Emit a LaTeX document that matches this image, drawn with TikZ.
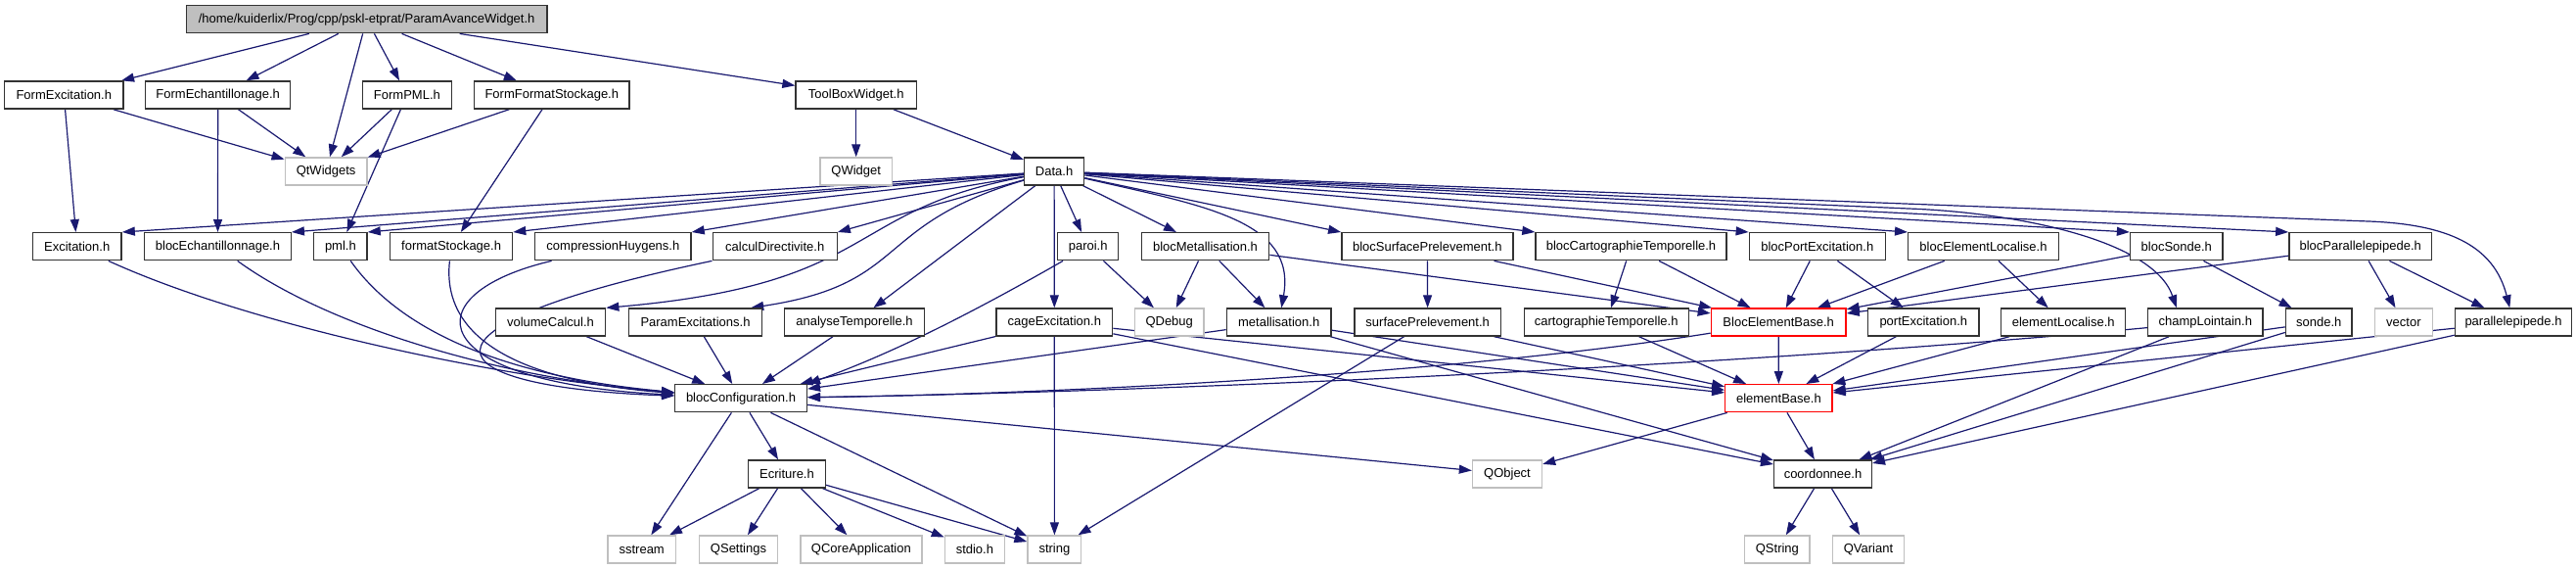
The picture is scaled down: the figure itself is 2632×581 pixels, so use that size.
\documentclass[tikz,border=0pt]{standalone}
\usepackage{fontspec}
\setmainfont{Liberation Sans}
\usetikzlibrary{arrows.meta,calc}
\definecolor{edgec}{HTML}{191970}
\definecolor{extc}{HTML}{BFBFBF}
\definecolor{rootfill}{HTML}{BFBFBF}
\definecolor{redc}{HTML}{FF0000}
\definecolor{boxc}{HTML}{333333}
\pgfdeclarelayer{bg}
\pgfdeclarelayer{edges}
\pgfsetlayers{bg,edges,main}
\tikzset{
  box/.style={draw=boxc, line width=1.4pt, fill=white, minimum height=28pt,
    inner xsep=2pt, inner ysep=0pt, font=\fontsize{13}{15}\selectfont},
  ext/.style={box, draw=extc},
  redbox/.style={box, draw=redc},
  rootbox/.style={box, fill=rootfill},
  edge/.style={draw=edgec, line width=1.2pt, -{Triangle[length=13pt,width=9pt]}}
}
\begin{document}
\begin{tikzpicture}[x=1pt,y=-1pt]
\begin{pgfonlayer}{bg}
\fill[white] (0,0) rectangle (2632,581);
\end{pgfonlayer}
\useasboundingbox (0,0) rectangle (2632,581);
% row 1
\node[rootbox,minimum width=368.7pt] (root) at (374.6,19.7) {/home/kuiderlix/Prog/cpp/pskl-etprat/ParamAvanceWidget.h};
% row 2
\node[box,minimum width=121.3pt] (fexc) at (65.3,97) {FormExcitation.h};
\node[box,minimum width=148.1pt] (fech) at (222.7,97) {FormEchantillonage.h};
\node[box,minimum width=90.9pt] (fpml) at (415.9,97) {FormPML.h};
\node[box,minimum width=158.7pt] (ffs) at (563.8,97) {FormFormatStockage.h};
\node[box,minimum width=123.3pt] (tbw) at (874.7,97) {ToolBoxWidget.h};
% row 3
\node[ext,minimum width=83.7pt] (qtw) at (333.1,175) {QtWidgets};
\node[ext,minimum width=73.7pt] (qwid) at (874.7,175) {QWidget};
\node[box,minimum width=61pt] (data) at (1077.1,175) {Data.h};
% row 4
\node[box,minimum width=90.9pt] (exc) at (78.7,251.7) {Excitation.h};
\node[box,minimum width=149.5pt] (bech) at (222.5,251.7) {blocEchantillonnage.h};
\node[box,minimum width=54.3pt] (pml) at (347.9,251.7) {pml.h};
\node[box,minimum width=125pt] (fst) at (461.1,251.7) {formatStockage.h};
\node[box,minimum width=159.3pt] (chy) at (626.4,251.7) {compressionHuygens.h};
\node[box,minimum width=127pt] (cdir) at (791.7,251.7) {calculDirectivite.h};
\node[box,minimum width=62pt] (paroi) at (1111.7,251.7) {paroi.h};
\node[box,minimum width=130.4pt] (bmet) at (1231.5,251.7) {blocMetallisation.h};
\node[box,minimum width=175pt] (bsp) at (1458.3,251.7) {blocSurfacePrelevement.h};
\node[box,minimum width=195pt] (bct) at (1666.5,251.7) {blocCartographieTemporelle.h};
\node[box,minimum width=139pt] (bpe) at (1856.8,251.7) {blocPortExcitation.h};
\node[box,minimum width=153.6pt] (bel) at (2026.5,251.7) {blocElementLocalise.h};
\node[box,minimum width=94.5pt] (bso) at (2223.8,251.7) {blocSonde.h};
\node[box,minimum width=145.7pt] (bpa) at (2411.7,251.7) {blocParallelepipede.h};
% row 5
\node[box,minimum width=112.4pt] (vol) at (562.5,329) {volumeCalcul.h};
\node[box,minimum width=136pt] (pex) at (710.5,329) {ParamExcitations.h};
\node[box,minimum width=142.7pt] (ate) at (873,329) {analyseTemporelle.h};
\node[box,minimum width=118.7pt] (cage) at (1077.3,329) {cageExcitation.h};
\node[ext,minimum width=70.7pt] (qdbg) at (1194.7,329) {QDebug};
\node[box,minimum width=106.7pt] (met) at (1306.7,329) {metallisation.h};
\node[box,minimum width=149.3pt] (sp) at (1458.7,329) {surfacePrelevement.h};
\node[box,minimum width=168pt] (ct) at (1641.2,329) {cartographieTemporelle.h};
\node[redbox,minimum width=137.7pt] (beb) at (1817.2,329) {BlocElementBase.h};
\node[box,minimum width=113.7pt] (pe) at (1965.3,329) {portExcitation.h};
\node[box,minimum width=127pt] (el) at (2108.2,329) {elementLocalise.h};
\node[box,minimum width=117.4pt] (cl) at (2253.3,329) {champLointain.h};
\node[box,minimum width=67.5pt] (so) at (2369.2,329) {sonde.h};
\node[ext,minimum width=59pt] (vec) at (2455.9,329) {vector};
\node[box,minimum width=119.2pt] (par) at (2568,329) {parallelepipede.h};
% row 6
\node[box,minimum width=134.7pt] (bconf) at (757,406.7) {blocConfiguration.h};
\node[redbox,minimum width=109.3pt] (eb) at (1817.4,406.7) {elementBase.h};
% row 7
\node[box,minimum width=78.7pt] (ecr) at (804,484) {Ecriture.h};
\node[ext,minimum width=71pt] (qobj) at (1540,484) {QObject};
\node[box,minimum width=99.7pt] (coord) at (1862.5,484) {coordonnee.h};
% row 8
\node[ext,minimum width=69.7pt] (sst) at (655.7,561) {sstream};
\node[ext,minimum width=80pt] (qset) at (754.5,561) {QSettings};
\node[ext,minimum width=123.8pt] (qca) at (879.9,561) {QCoreApplication};
\node[ext,minimum width=61pt] (stdio) at (995.9,561) {stdio.h};
\node[ext,minimum width=54.7pt] (str) at (1077.4,561) {string};
\node[ext,minimum width=66.3pt] (qstr) at (1815.9,561) {QString};
\node[ext,minimum width=73.3pt] (qvar) at (1909,561) {QVariant};

\coordinate (clbend) at (1950,213);
\coordinate (parbend) at (2420,226);

\begin{pgfonlayer}{edges}
% root
\draw[edge] (root) -- (fexc);
\draw[edge] (root) -- (fech);
\draw[edge] (root) -- (qtw);
\draw[edge] (root) -- (fpml);
\draw[edge] (root) -- (ffs);
\draw[edge] (root) -- (tbw);
% row 2
\draw[edge] (fexc) -- (qtw);
\draw[edge] (fexc) -- (exc);
\draw[edge] (fech) -- (qtw);
\draw[edge] (fech) -- (bech);
\draw[edge] (fpml) -- (qtw);
\draw[edge] (fpml) -- (pml);
\draw[edge] (ffs) -- (qtw);
\draw[edge] (ffs) -- (fst);
\draw[edge] (tbw) -- (qwid);
\draw[edge] (tbw) -- (data);
% Data
\draw[edge] (data) -- (exc.north east);
\draw[edge] (data) -- (bech.north east);
\draw[edge] (data) -- (pml.north east);
\draw[edge] (data) -- (fst.north east);
\draw[edge] (data) -- (chy.north east);
\draw[edge] (data) -- (cdir.north east);
\draw[edge] (data) .. controls (860,215) and (900,290) .. (vol.north east);
\draw[edge] (data) .. controls (890,230) and (930,290) .. ($(pex.north east)+(-12,0)$);
\draw[edge] (data) -- (ate);
\draw[edge] (data) -- (cage);
\draw[edge] (data) -- (paroi);
\draw[edge] (data) -- (bmet);
\draw[edge] (data) .. controls (1230,210) and (1325,225) .. (met);
\draw[edge] (data) -- (bsp.north west);
\draw[edge] (data) -- (bct.north west);
\draw[edge] (data) -- (bpe.north west);
\draw[edge] (data) -- (bel.north west);
\draw[edge] (data) -- (bso.north west);
\draw[edge] (data) -- (bpa.north west);
\draw[edge] (data) -- (clbend) .. controls (2060,217) and (2200,245) .. ($(cl.north west)+(30,0)$);
\draw[edge] (data) -- (parbend) .. controls (2500,229) and (2548,250) .. (par);
% row 4 -> blocConfiguration
\draw[edge] (exc) .. controls (250,330) and (500,385) .. (bconf);
\draw[edge] (bech) .. controls (330,330) and (500,385) .. (bconf);
\draw[edge] (pml) .. controls (410,340) and (520,385) .. (bconf);
\draw[edge] (fst) .. controls (450,350) and (540,390) .. (bconf);
\draw[edge] (chy) .. controls (420,300) and (430,390) .. (bconf);
\draw[edge] (cdir.south west) .. controls (400,335) and (440,395) .. (bconf);
\draw[edge] (paroi) .. controls (975,330) and (900,365) .. (bconf.north east);
\draw[edge] (paroi) -- (qdbg);
\draw[edge] (bmet) -- (qdbg);
\draw[edge] (bmet) -- (met);
\draw[edge] (bmet) -- (beb);
\draw[edge] (bsp) -- (sp);
\draw[edge] (bsp) -- (beb);
\draw[edge] (bct) -- (ct);
\draw[edge] (bct) -- (beb);
\draw[edge] (bpe) -- (beb);
\draw[edge] (bpe) -- (pe);
\draw[edge] (bel) -- (beb);
\draw[edge] (bel) -- (el);
\draw[edge] (bso) -- (beb);
\draw[edge] (bso) -- (so);
\draw[edge] (bpa) -- (beb);
\draw[edge] (bpa) -- (vec);
\draw[edge] (bpa) -- (par);
% row 5
\draw[edge] (vol) -- (bconf);
\draw[edge] (pex) -- (bconf);
\draw[edge] (ate) -- (bconf);
\draw[edge] (cage) -- (bconf);
\draw[edge] (cage) -- (str);
\draw[edge] (cage) -- (eb);
\draw[edge] (cage) -- (coord);
\draw[edge] (met) -- (bconf);
\draw[edge] (met) -- (eb);
\draw[edge] (met) -- (coord);
\draw[edge] (sp) -- (str);
\draw[edge] (sp) -- (eb);
\draw[edge] (ct) -- (eb);
\draw[edge] (beb) .. controls (1500,380) and (1100,402) .. (bconf);
\draw[edge] (beb) -- (eb);
\draw[edge] (pe) -- (eb);
\draw[edge] (el) -- (eb);
\draw[edge] (cl) .. controls (1800,372) and (1200,400) .. (bconf);
\draw[edge] (cl) -- (coord);
\draw[edge] (so) -- (eb);
\draw[edge] (so) -- (coord);
\draw[edge] (par) -- (eb);
\draw[edge] (par) -- (coord);
% row 6
\draw[edge] (bconf) -- (sst);
\draw[edge] (bconf) -- (ecr);
\draw[edge] (bconf) -- (str);
\draw[edge] (bconf) -- (qobj);
\draw[edge] (eb) -- (qobj);
\draw[edge] (eb) -- (coord);
% row 7
\draw[edge] (ecr) -- (sst);
\draw[edge] (ecr) -- (qset);
\draw[edge] (ecr) -- (qca);
\draw[edge] (ecr) -- (stdio);
\draw[edge] (ecr) -- (str);
\draw[edge] (coord) -- (qstr);
\draw[edge] (coord) -- (qvar);
\end{pgfonlayer}
\end{tikzpicture}
\end{document}
